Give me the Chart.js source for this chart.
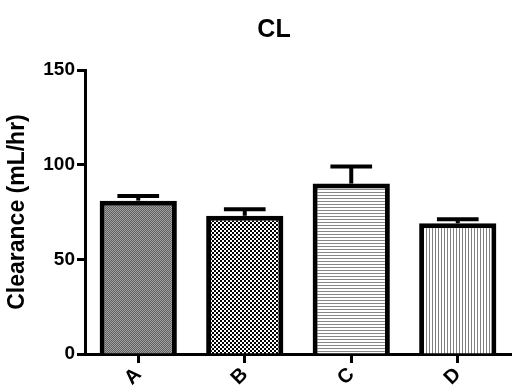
<!DOCTYPE html>
<html>
<head>
<meta charset="utf-8">
<script src="https://cdn.jsdelivr.net/npm/chart.js"></script>
<style>
  html, body { margin: 0; padding: 0; background: #fff; }
  #wrap { width: 514px; height: 389px; }
</style>
</head>
<body>
<div id="wrap"><canvas id="chart"></canvas></div>
<script>
const TITLE = "CL";
const Y_TITLE = "Clearance (mL/hr)";
const GROUPS = ["A", "B", "C", "D"];
const MEANS = [81, 73, 90, 69];
const SEM = [2.5, 3.5, 9, 2.2];
const Y_TICKS = [0, 50, 100, 150];

const FONT = "Arial, 'Liberation Sans', sans-serif";

const makePattern = (size, paint) => {
  const c = document.createElement("canvas");
  c.width = size;
  c.height = size;
  const g = c.getContext("2d");
  g.fillStyle = "#fff";
  g.fillRect(0, 0, size, size);
  paint(g);
  return document.createElement("canvas").getContext("2d").createPattern(c, "repeat");
};

const PATTERNS = [
  // grey fine checker
  makePattern(2, (g) => {
    g.fillStyle = "#606060";
    g.fillRect(0, 0, 2, 2);
    g.fillStyle = "#a0a0a0";
    g.fillRect(0, 0, 1, 1);
    g.fillRect(1, 1, 1, 1);
  }),
  // black and white checker
  makePattern(4, (g) => {
    g.fillStyle = "#000";
    g.fillRect(0, 0, 2, 2);
    g.fillRect(2, 2, 2, 2);
  }),
  // horizontal lines
  makePattern(3, (g) => {
    g.fillStyle = "#888";
    g.fillRect(0, 0, 3, 1);
  }),
  // vertical lines
  makePattern(3, (g) => {
    g.fillStyle = "#808080";
    g.fillRect(0, 0, 1, 3);
  }),
];

const errorBars = {
  id: "errorBars",
  afterDatasetsDraw(chart) {
    const { ctx } = chart;
    const y = chart.scales.y;
    const meta = chart.getDatasetMeta(0);
    ctx.save();
    ctx.strokeStyle = "#000";
    ctx.lineCap = "butt";
    meta.data.forEach((bar, i) => {
      const top = y.getPixelForValue(MEANS[i]);
      const cap = y.getPixelForValue(MEANS[i] + SEM[i]);
      const half = bar.width * 0.27;
      ctx.lineWidth = 4;
      ctx.beginPath();
      ctx.moveTo(bar.x, top);
      ctx.lineTo(bar.x, cap);
      ctx.stroke();
      ctx.beginPath();
      ctx.moveTo(bar.x - half, cap);
      ctx.lineTo(bar.x + half, cap);
      ctx.stroke();
    });
    ctx.restore();
  },
};

const chartTitle = {
  id: "chartTitle",
  afterDraw(chart) {
    const { ctx } = chart;
    ctx.save();
    ctx.fillStyle = "#000";
    ctx.font = "bold 25px " + FONT;
    ctx.textAlign = "center";
    ctx.textBaseline = "middle";
    ctx.fillText(TITLE, 274, 30);
    ctx.restore();
  },
};

new Chart(document.getElementById("chart"), {
  type: "bar",
  data: {
    labels: GROUPS,
    datasets: [
      {
        data: MEANS,
        backgroundColor: PATTERNS,
        borderColor: "#000",
        borderWidth: 5,
        borderSkipped: "bottom",
        categoryPercentage: 1,
        barPercentage: 0.725,
      },
    ],
  },
  options: {
    responsive: true,
    maintainAspectRatio: false,
    animation: false,
    layout: { padding: { top: 70, left: 4, right: 3, bottom: 0 } },
    plugins: {
      legend: { display: false },
      tooltip: { enabled: false },
      title: { display: false },
    },
    scales: {
      x: {
        afterFit: (s) => { s.height = 35; },
        border: { display: true, color: "#000", width: 3 },
        grid: {
          display: true,
          drawOnChartArea: false,
          offset: false,
          tickLength: 9,
          tickWidth: 3,
          tickColor: "#000",
        },
        ticks: {
          color: "#000",
          font: { family: FONT, size: 20, weight: "bold" },
          minRotation: 45,
          maxRotation: 45,
          padding: 0,
        },
      },
      y: {
        min: 0,
        max: 150,
        afterFit: (s) => { s.width = 81; },
        afterBuildTicks: (s) => { s.ticks = Y_TICKS.map((v) => ({ value: v })); },
        border: { display: true, color: "#000", width: 3 },
        grid: {
          display: true,
          drawOnChartArea: false,
          tickLength: 8,
          tickWidth: 3,
          tickColor: "#000",
        },
        ticks: {
          color: "#000",
          font: { family: FONT, size: 19, weight: "bold" },
          padding: 2,
        },
        title: {
          display: true,
          text: Y_TITLE,
          color: "#000",
          font: { family: FONT, size: 23, weight: "bold" },
          padding: 0,
        },
      },
    },
  },
  plugins: [errorBars, chartTitle],
});
</script>
</body>
</html>
